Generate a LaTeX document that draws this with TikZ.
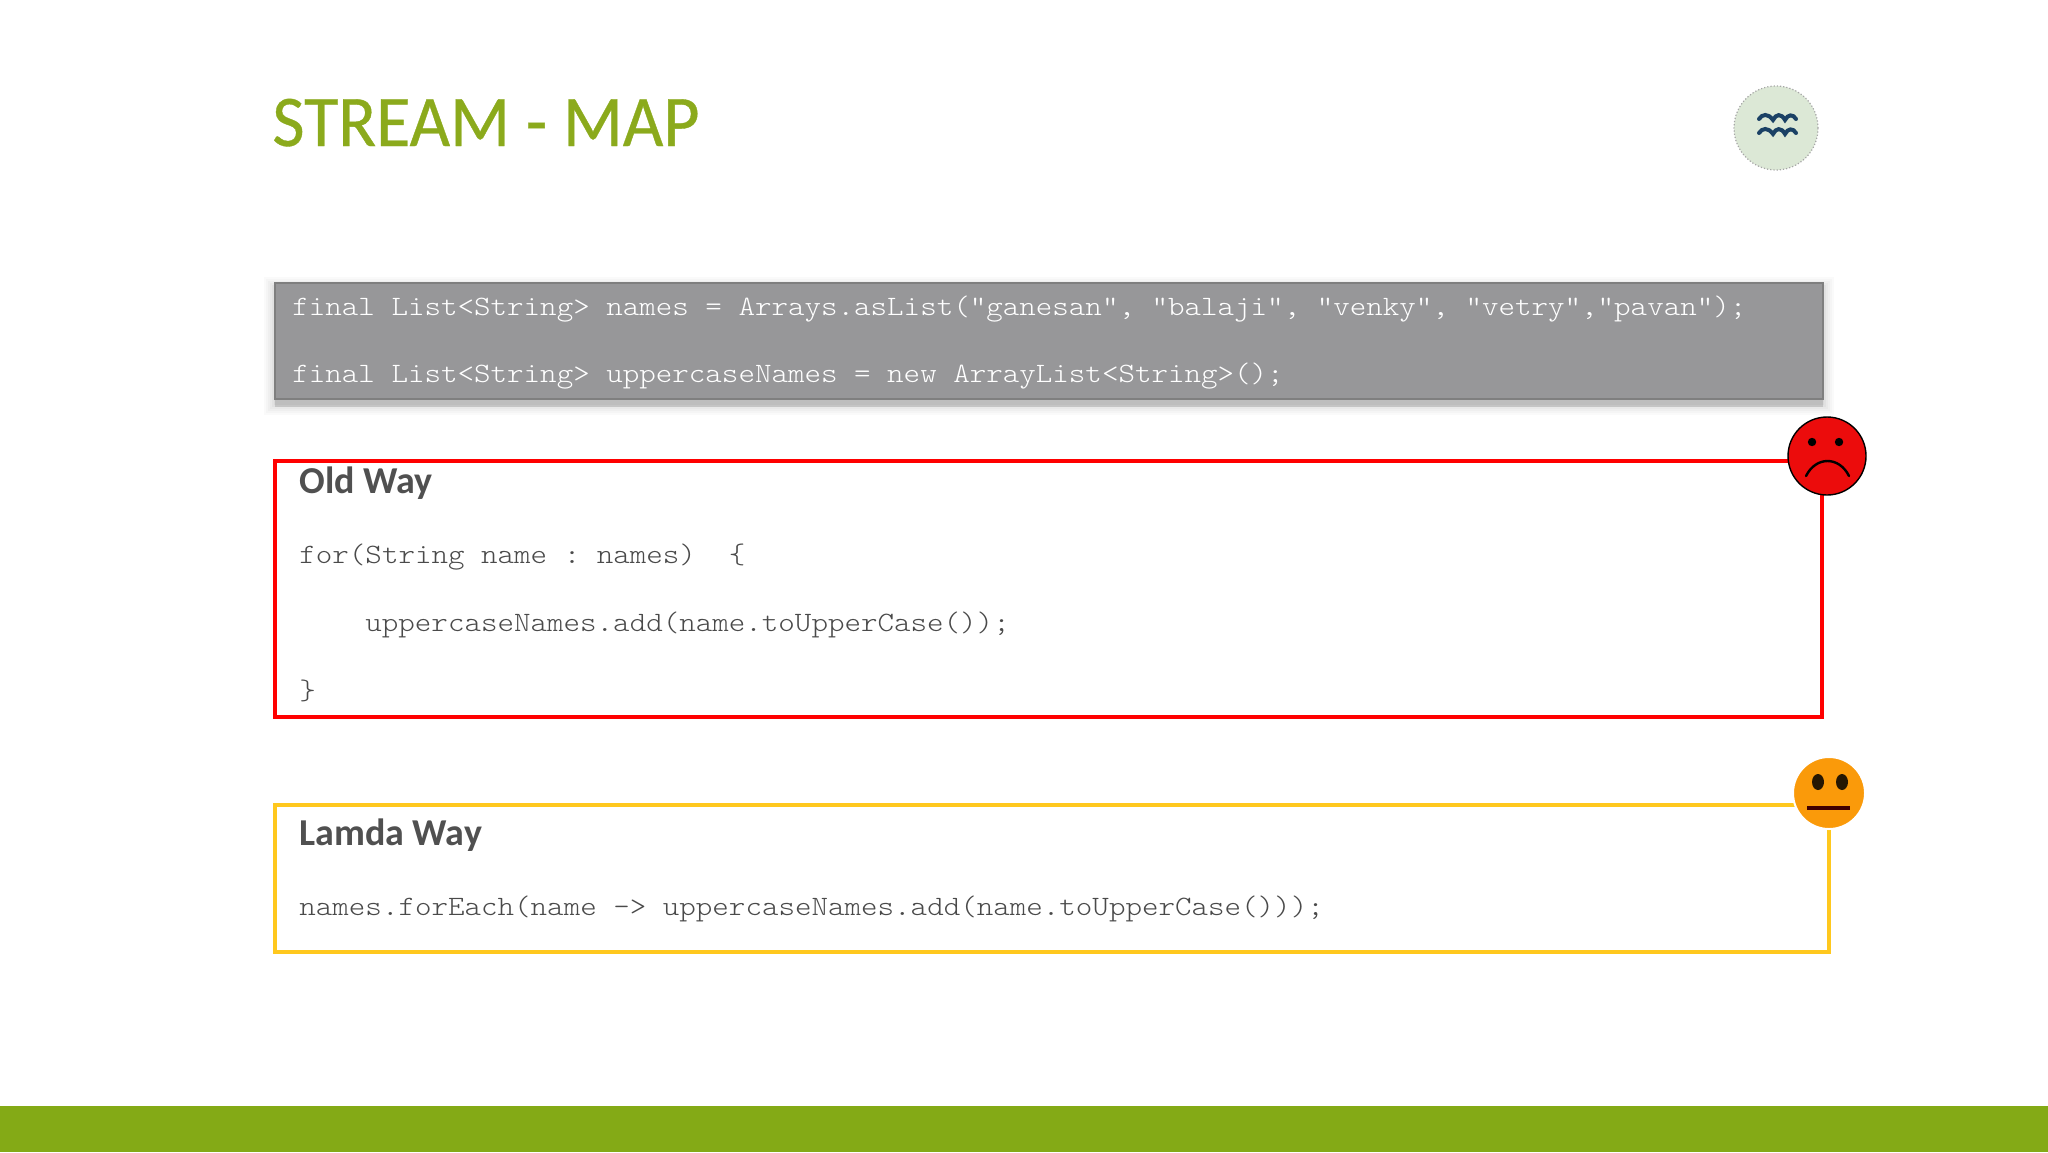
\documentclass[tikz,border=0pt]{standalone}
\usepackage{graphicx}
\usepackage{fontspec}
\setmainfont{Carlito}
\setmonofont[FakeStretch=1.124]{Latin Modern Mono Light}
\newfontfamily\titlefam[FakeBold=0.5]{Carlito}
\definecolor{brandgreen}{HTML}{84AA16}
\definecolor{titlegreen}{HTML}{8BAA1C}
\definecolor{boxgray}{HTML}{979799}
\definecolor{edgegray}{HTML}{7F7F7F}
\definecolor{inkgray}{HTML}{4A4A4A}
\definecolor{headgray}{HTML}{505050}
\definecolor{oldred}{HTML}{FF0000}
\definecolor{lamyellow}{HTML}{FFC81E}
\definecolor{badgefill}{HTML}{DCE8D6}
\definecolor{wavenavy}{HTML}{1B4165}
\definecolor{sadred}{HTML}{EC0C0C}
\definecolor{midorange}{HTML}{FA9A0A}
\tikzset{
  x=0.5pt,y=-0.5pt,
  codetext/.style={anchor=base west,inner sep=0pt,font=\fontsize{14}{16}\selectfont\ttfamily},
  graycode/.style={codetext,text=white},
  blackcode/.style={codetext,text=inkgray},
  heading/.style={anchor=base west,inner sep=0pt,font=\fontsize{19}{22}\selectfont\bfseries,text=headgray},
  titletext/.style={anchor=base west,inner sep=0pt,font=\fontsize{35}{40}\selectfont\titlefam,text=titlegreen},
  framebox/.style={rectangle,line width=2pt,outer sep=0pt,inner sep=0pt,anchor=north west},
  wave/.style={draw=wavenavy,line width=2pt,line cap=round},
}
\begin{document}
\begin{tikzpicture}
\useasboundingbox (0,0) rectangle (2048,1152);
\fill[white] (0,0) rectangle (2048,1152);
\fill[brandgreen] (0,1106) rectangle (2048,1152);
% title
\node[titletext] (title) at (272,146) {\scalebox{1}[1.04]{STREAM - MAP}};
% badge
\node[circle,minimum size=42pt,inner sep=0pt,outer sep=0pt,fill=badgefill,draw=gray!70,densely dotted,line width=0.6pt] (badge) at (1776,128) {};
\foreach \yy in {118,132}{
  \draw[wave] (1759,\yy+1) .. controls (1762,\yy-4) and (1768,\yy-5) .. (1773,\yy+2)
    .. controls (1776,\yy-4) and (1781,\yy-5) .. (1785,\yy+2)
    .. controls (1788,\yy-4) and (1793,\yy-4) .. (1796,\yy+1);
}
% shadow of gray box
\foreach \g/\o in {11/0.02,9/0.02,7/0.025,5/0.025,3/0.03,1/0.03}{
  \fill[black,opacity=\o] (275-\g,283-\g+5) rectangle (1823+\g,399+\g+5);
}
\fill[black,opacity=0.12] (275,399) rectangle (1823,407);
\node[framebox,draw=edgegray,fill=boxgray,line width=1pt,minimum width=774pt,minimum height=58pt] (codebox) at (275,283) {};
\node[graycode] (line1) at (292,315) {final List<String> names = Arrays.asList("ganesan", "balaji", "venky", “vetry","pavan");};
\node[graycode] (line2) at (292,382) {final List<String> uppercaseNames = new ArrayList<String>();};
% old way
\node[framebox,draw=oldred,minimum width=773.5pt,minimum height=128pt] (oldbox) at (275,461) {};
\node[heading] (oldhead) at (299,493) {Old Way};
\node[blackcode] (old1) at (299,563) {for(String name : names)\ \ \{};
\node[blackcode] (old2) at (365,631) {uppercaseNames.add(name.toUpperCase());};
\node[blackcode] (old3) at (299,699) {\}};
\node[circle,minimum size=39pt,inner sep=0pt,outer sep=0pt,fill=sadred,draw=black,line width=0.7pt] (sad) at (1827,456) {};
\fill[black] (1812,442) circle (4.2);
\fill[black] (1839,442) circle (4.2);
\draw[black,line width=1.2pt,line cap=round] (1806,476) .. controls (1816,456) and (1839,456) .. (1849,476);
% lamda way
\node[framebox,draw=lamyellow,minimum width=777pt,minimum height=73.5pt] (lambox) at (275,805) {};
\node[heading] (lamhead) at (299,845) {Lamda Way};
\node[blackcode] (lam1) at (299,915) {names.forEach(name -> uppercaseNames.add(name.toUpperCase()));};
\node[circle,minimum size=36pt,inner sep=0pt,outer sep=0pt,fill=midorange,draw=white,line width=1pt] (mid) at (1829,793) {};
\fill[black!85!midorange] (1818,782) ellipse (6 and 8);
\fill[black!85!midorange] (1842,782) ellipse (6 and 8);
\draw[black!75!red,line width=2pt] (1807,808) -- (1850,808);
\end{tikzpicture}
\end{document}
